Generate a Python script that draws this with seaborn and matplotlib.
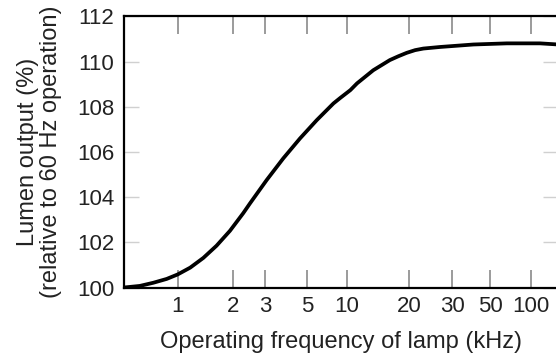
import numpy as np
import pandas as pd
import matplotlib.pyplot as plt
import seaborn as sns

# values
freq_khz = [0.508, 0.62, 0.735, 0.87, 1.0, 1.17, 1.38, 1.63, 1.93, 2.28, 2.48, 2.70,
            3.06, 3.75, 4.60, 5.94, 7.93, 8.91, 10.4, 11.2, 13.4, 16.1, 17.7, 19.4,
            21.1, 22.8, 26.7, 39.9, 66.3, 116, 158]
lumen_pct = [100.0, 100.07, 100.21, 100.38, 100.58, 100.88, 101.31, 101.85, 102.51,
             103.29, 103.72, 104.14, 104.76, 105.72, 106.60, 107.41, 108.15, 108.39,
             108.74, 109.04, 109.62, 110.07, 110.24, 110.39, 110.51, 110.58, 110.65,
             110.76, 110.81, 110.81, 110.76]

xtick_vals = [1, 2, 3, 5, 10, 20, 30, 50, 100]
xtick_labels = ['1', '2', '3', '5', '10', '20', '30', '50', '100']
ytick_vals = [100, 102, 104, 106, 108, 110, 112]

# the printed axis is not evenly logarithmic: knots where the labels sit
knot_log = np.log10([0.1, 1, 2, 3, 5, 10, 20, 30, 50, 100, 1000])
knot_pos = [-5.0, 177.7, 232.7, 265.0, 306.7, 346.7, 409.3, 452.3, 490.0, 531.0, 667.0]


def fwd(x):
    x = np.clip(np.asarray(x, dtype=float), 1e-6, None)
    return np.interp(np.log10(x), knot_log, knot_pos)


def inv(p):
    return 10 ** np.interp(np.asarray(p, dtype=float), knot_pos, knot_log)


df = pd.DataFrame({'freq': freq_khz, 'lumen': lumen_pct})

sns.set_theme(style='white')
plt.rcParams['font.family'] = ['Liberation Sans', 'DejaVu Sans']

fig = plt.figure(figsize=(5.56, 3.56), dpi=100)
ax = fig.add_axes([0.223, 0.1924, 0.781, 0.7613])
ax.set_xscale('function', functions=(fwd, inv))

sns.lineplot(data=df, x='freq', y='lumen', ax=ax, color='black', lw=2.7,
             solid_joinstyle='round', solid_capstyle='round')

ax.set_xlim(0.508, 158)
ax.set_ylim(100, 112)
ax.set_xticks(xtick_vals)
ax.set_xticklabels(xtick_labels)
ax.xaxis.set_minor_locator(plt.NullLocator())
ax.set_yticks(ytick_vals)

ax.tick_params(axis='x', direction='in', length=13, width=1.1, color='#808080',
               top=True, bottom=True, labelsize=16, pad=6, labelcolor='#222222')
ax.tick_params(axis='y', direction='in', length=11, width=1.0, color='#d0d0d0',
               left=True, right=True, labelsize=16, pad=7, labelcolor='#222222')

for s in ax.spines.values():
    s.set_color('black')
    s.set_linewidth(1.6)

ax.set_xlabel('Operating frequency of lamp (kHz)', fontsize=17, color='#222222', labelpad=10)
ax.set_ylabel('Lumen output (%)\n(relative to 60 Hz operation)', fontsize=17,
              color='#222222', labelpad=11, linespacing=1.05)

fig.savefig('out.png', dpi=100)
